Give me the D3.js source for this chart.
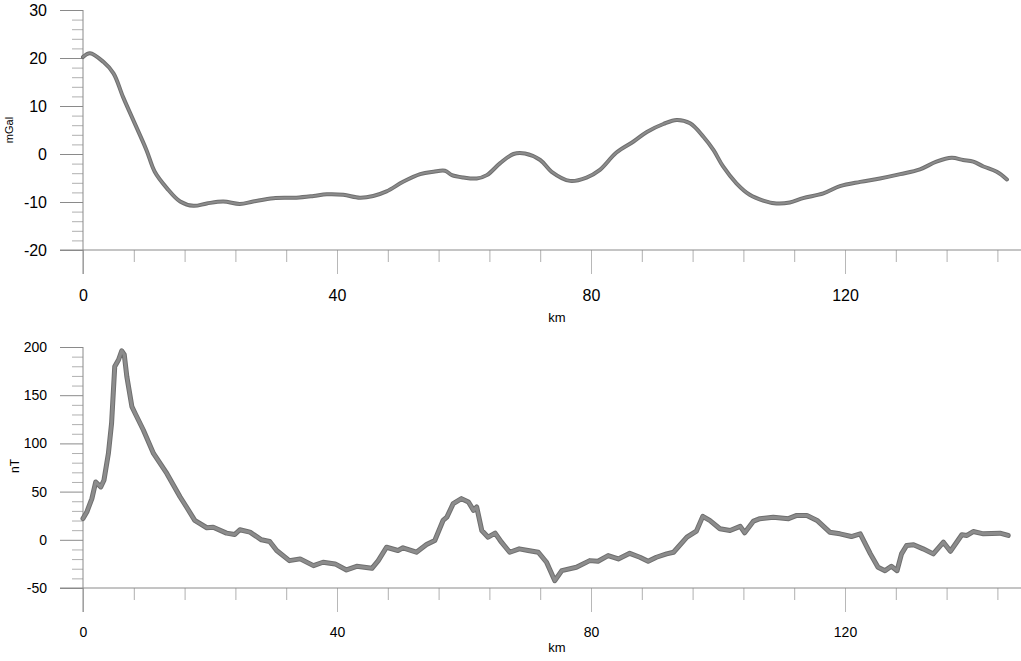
<!DOCTYPE html>
<html><head><meta charset="utf-8">
<script src="https://cdn.jsdelivr.net/npm/d3@7"></script>
<style>body{margin:0;background:#fff}svg{display:block}text{font-family:"Liberation Sans",Arial,sans-serif;fill:#000}</style>
</head><body><svg id="c" width="1021" height="661"></svg>
<script>
const gravKm = [0,1.1,3.2,4.8,6.3,7.9,10.0,11.3,13.2,15.3,17.4,19.5,22.1,24.7,26.8,30.0,33.6,36.3,38.4,41.0,43.6,45.7,47.8,50.4,53.1,55.2,57.0,58.1,59.9,62.0,63.6,65.7,67.8,69.6,72.0,73.8,76.7,79.3,81.4,84.0,86.7,88.8,91.4,93.5,95.6,97.7,99.3,100.8,102.9,105.0,107.1,109.2,111.3,113.4,116.6,119.2,122.4,125.5,128.7,131.8,134.4,136.8,138.6,140.2,141.8,143.9,145.5];
const gravVal = [20.2,21.0,19.2,16.8,11.9,7.1,0.8,-3.7,-7.1,-9.9,-10.8,-10.3,-9.9,-10.4,-9.9,-9.2,-9.1,-8.75,-8.4,-8.5,-9.1,-8.75,-7.8,-5.8,-4.2,-3.7,-3.5,-4.4,-4.9,-5.1,-4.4,-1.9,0,0.1,-1.25,-3.7,-5.6,-4.9,-3.3,0.3,2.6,4.6,6.25,7.1,6.4,3.6,0.8,-2.6,-6.1,-8.5,-9.7,-10.3,-10.1,-9.2,-8.2,-6.7,-5.8,-5.1,-4.2,-3.2,-1.6,-0.8,-1.25,-1.6,-2.6,-3.7,-5.3];
const magKm = [0,0.6,1.4,2.0,2.8,3.3,4.0,4.5,5.0,5.6,6.1,6.5,6.9,7.7,8.2,9.5,11.1,13.2,15.3,16.3,17.6,19.5,20.5,22.6,23.9,24.7,26.3,28.1,29.4,30.5,32.5,34.2,36.3,37.8,39.7,41.5,43.1,45.5,46.5,47.8,49.6,50.4,52.5,54.1,55.4,56.7,57.3,58.3,59.6,60.7,61.5,62.0,62.8,63.8,64.9,65.9,67.2,68.7,70.1,71.7,73.0,74.3,75.4,77.7,79.8,81.1,82.7,84.3,86.1,87.7,89.0,90.3,91.9,93.0,95.1,96.6,97.6,98.7,100.3,101.9,103.5,104.2,105.6,106.6,108.7,111.1,112.4,114.0,115.6,117.6,119.2,121.0,122.4,124.0,125.2,126.3,127.3,128.2,128.9,129.7,130.8,132.3,133.9,135.5,136.6,138.4,139.2,140.2,141.8,144.4,145.7];
const magVal = [22,28.8,42.7,60,54.8,61.8,89.6,120.8,179.8,186.8,196.1,192,169.4,138.1,131.3,113.9,89.6,68.8,44.4,34,20.1,12.5,13.1,6.9,5.5,10.4,7.9,0,-1.8,-11.1,-21.6,-19.8,-26.8,-23.3,-25,-31.3,-27.5,-29.6,-21.6,-7.7,-11.1,-8.3,-12.9,-4.9,-0.7,20.1,23.5,37.5,42.7,39.2,30.5,34,9.7,2.7,6.9,-2.5,-12.9,-9.4,-11.1,-12.9,-23.3,-42.4,-32,-28.5,-21.6,-22.3,-16.4,-19.8,-14,-18.1,-22.3,-18.1,-14.6,-12.9,2.7,9,24.3,20.1,11.5,9.7,13.9,7.3,19.4,21.9,23.5,21.9,25.3,25.3,20.1,7.9,6.2,3.4,6.2,-14.6,-28.5,-32,-27.5,-32,-14.6,-5.9,-5.2,-9.4,-14.6,-2.5,-11.9,5.2,4.5,8.6,6.2,6.9,4.5];
const xMajor = [0,40,80,120];
const xMinor = [8,16,24,32,48,56,64,72,88,96,104,112,128,136,144];
const gravTicks = [-20,-10,0,10,20,30];
const magTicks = [-50,0,50,100,150,200];
const xTitle = "km";
const gravTitle = "mGal";
const magTitle = "nT";

const svg = d3.select("#c");
const x = d3.scaleLinear().domain([0,147.5]).range([83,83+147.5*6.35]);
const fmt = d => String(d);

function panel(opt){
  const g = svg.append("g");
  const y = d3.scaleLinear().domain(opt.ydom).range(opt.yrange);
  const y0 = opt.yrange[0];
  const minors = d3.range(opt.ydom[0], opt.ydom[1]+1e-9, opt.minorStep).filter(v=>!opt.yticks.includes(v));
  g.append("g").attr("transform","translate(83,0)")
    .call(d3.axisLeft(y).tickValues(minors).tickSize(11).tickFormat(""))
    .call(a=>{a.select(".domain").remove();a.selectAll("line").attr("stroke","#b0b0b0");});
  g.append("g").attr("transform","translate(83,0)")
    .call(d3.axisLeft(y).tickValues(opt.yticks).tickSize(23).tickPadding(13).tickFormat(fmt))
    .call(a=>{a.select(".domain").remove();a.selectAll("line").attr("stroke","#8a8a8a");
      a.selectAll("text").attr("font-size",opt.fs).attr("fill","#000").attr("font-family","Liberation Sans, Arial, sans-serif");});
  g.append("g").attr("transform",`translate(0,${y0})`)
    .call(d3.axisBottom(x).tickValues(xMinor).tickSize(12).tickFormat(""))
    .call(a=>{a.select(".domain").remove();a.selectAll("line").attr("stroke","#b0b0b0");});
  g.append("g").attr("transform",`translate(0,${y0})`)
    .call(d3.axisBottom(x).tickValues(xMajor).tickSize(24).tickPadding(opt.xpad).tickFormat(fmt))
    .call(a=>{a.select(".domain").remove();a.selectAll("line").attr("stroke","#b8b8b8");
      a.selectAll("text").attr("font-size",opt.fs).attr("fill","#000").attr("font-family","Liberation Sans, Arial, sans-serif");});
  g.append("line").attr("x1",83).attr("x2",83).attr("y1",opt.yrange[1]).attr("y2",y0+24).attr("stroke","#8a8a8a");
  g.append("line").attr("x1",60).attr("x2",1021).attr("y1",y0).attr("y2",y0).attr("stroke","#8a8a8a");
  g.append("text").attr("x",557).attr("y",opt.kmY).attr("text-anchor","middle").attr("font-size",13).text(xTitle);
  g.append("text").attr("transform",`translate(${opt.ytX},${opt.ytY}) rotate(-90)`).attr("text-anchor","middle")
    .attr("font-size",opt.ytFs).text(opt.ytitle);
  const line = d3.line().x(d=>x(d[0])).y(d=>y(d[1])).curve(opt.curve);
  const pts = opt.km.map((k,i)=>[k,opt.val[i]]);
  g.append("path").datum(pts).attr("d",line).attr("fill","none").attr("stroke","#6f6f6f")
    .attr("stroke-width",opt.sw+1).attr("stroke-linejoin","round").attr("stroke-linecap","round");
  g.append("path").datum(pts).attr("d",line).attr("fill","none").attr("stroke","#8c8c8c")
    .attr("stroke-width",opt.sw-1).attr("stroke-linejoin","round").attr("stroke-linecap","round");
}

panel({ydom:[-20,30],yrange:[250,10],yticks:gravTicks,minorStep:2,fs:16,xpad:16,kmY:322,
  ytitle:gravTitle,ytX:13,ytY:130,ytFs:11,km:gravKm,val:gravVal,curve:d3.curveCatmullRom,sw:3});
panel({ydom:[-50,200],yrange:[588,347],yticks:magTicks,minorStep:10,fs:14,xpad:15,kmY:652,
  ytitle:magTitle,ytX:19,ytY:466,ytFs:12,km:magKm,val:magVal,curve:d3.curveLinear,sw:4});
</script></body></html>
